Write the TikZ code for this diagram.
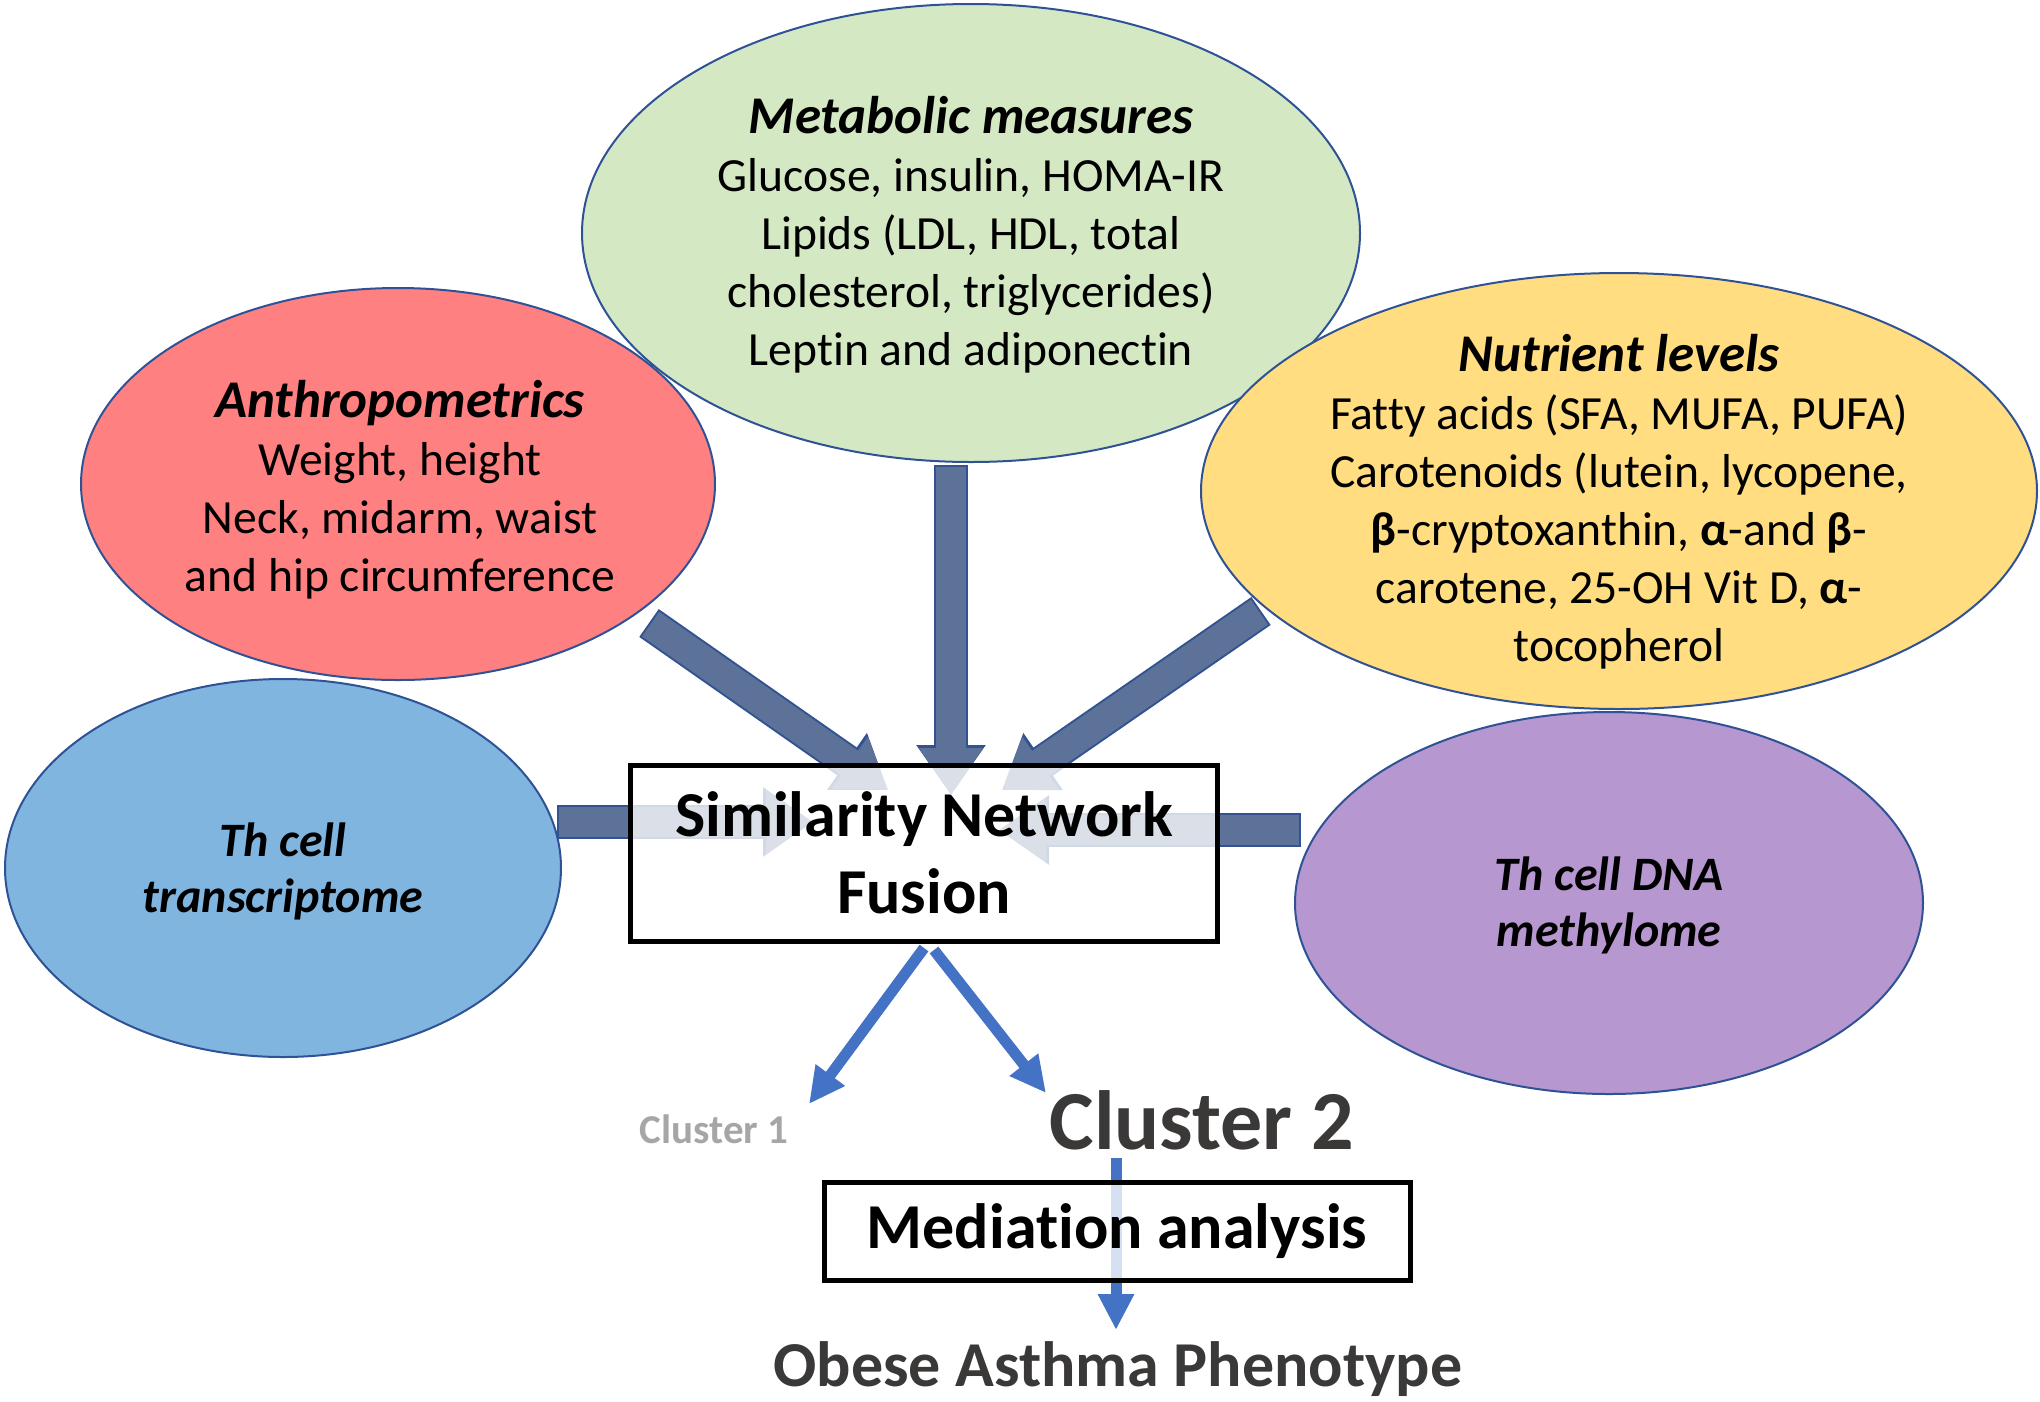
\documentclass[tikz,border=0pt]{standalone}
\usepackage{fontspec}
\setmainfont{Carlito}[Ligatures={NoCommon}]
\usetikzlibrary{arrows.meta,shapes.geometric}
\pgfdeclarelayer{bg}
\pgfsetlayers{bg,main}
\definecolor{ellborder}{RGB}{47,82,150}
\definecolor{cgreen}{RGB}{213,232,196}
\definecolor{cred}{RGB}{255,128,128}
\definecolor{cyellow}{RGB}{255,221,128}
\definecolor{cblue}{RGB}{128,181,223}
\definecolor{cpurple}{RGB}{182,151,207}
\definecolor{shaft}{RGB}{92,114,152}
\definecolor{shaftborder}{RGB}{50,82,145}
\definecolor{flow}{RGB}{68,114,196}
\definecolor{darktext}{RGB}{59,56,56}
\definecolor{lighttext}{RGB}{166,166,166}
\newcommand\myhead[1]{{\fontsize{53}{58}\selectfont\bfseries\itshape #1}}
\begin{document}
\begin{tikzpicture}[x=1pt,y=-1pt,
  ell/.style={ellipse, draw=ellborder, line width=2pt, inner sep=0pt},
  etext/.style={align=center, inner sep=0pt, font=\fontsize{47.6}{58}\selectfont},
  boxnode/.style={draw=black, line width=5pt, fill=white, fill opacity=0.78, text opacity=1, inner sep=0pt, align=center},
  fatback/.style={draw=shaftborder, line width=34pt, -{Triangle[width=66pt,length=50pt]}},
  fatfront/.style={draw=shaft, line width=30pt, shorten <=2pt, -{Triangle[width=61pt,length=47pt]}},
  flowarrow/.style={draw=flow, line width=11pt, -{Triangle[width=34pt,length=36pt]}}
]
\useasboundingbox (0,0) rectangle (2040,1401);

% ellipses
\node[ell, fill=cgreen, minimum width=778pt, minimum height=458pt] (met) at (971,233) {};
\node[ell, fill=cred, minimum width=634pt, minimum height=392pt] (anth) at (398,484) {};
\node[ell, fill=cyellow, minimum width=836pt, minimum height=436pt] (nutr) at (1619,491) {};
\node[ell, fill=cblue, minimum width=556pt, minimum height=378pt] (trans) at (283,868) {};
\node[ell, fill=cpurple, minimum width=628pt, minimum height=382pt] (meth) at (1609,903) {};

% ellipse texts
\node[etext] (metT) at (971,235) {\myhead{Metabolic measures}\\Glucose, insulin, HOMA-IR\\Lipids (LDL, HDL, total\\cholesterol, triglycerides)\\Leptin and adiponectin};
\node[etext] (anthT) at (400,490) {\myhead{Anthropometrics}\\Weight, height\\Neck, midarm, waist\\and hip circumference};
\node[etext] (nutrT) at (1619,502) {\myhead{Nutrient levels}\\Fatty acids (SFA, MUFA, PUFA)\\Carotenoids (lutein, lycopene,\\\textbf{β}-cryptoxanthin, \textbf{α}-and \textbf{β}-\\carotene, 25-OH Vit D, \textbf{α}-\\tocopherol};
\node[etext, font=\fontsize{48}{56}\selectfont\bfseries\itshape] (transT) at (283,871) {Th cell\\transcriptome};
\node[etext, font=\fontsize{48}{56}\selectfont\bfseries\itshape] (methT) at (1609,905) {Th cell DNA\\methylome};

% boxes
\node[boxnode, minimum width=587pt, minimum height=176pt, font=\fontsize{64}{77}\selectfont\bfseries] (snf) at (924,853) {Similarity Network\\Fusion};
\node[boxnode, minimum width=586pt, minimum height=98pt, font=\fontsize{64}{72}\selectfont\bfseries] (med) at (1117,1231) {Mediation analysis};

% cluster / outcome texts
\node[font=\fontsize{41}{50}\selectfont\bfseries, text=lighttext, inner sep=0pt] (c1) at (714,1129) {Cluster 1};
\node[font=\fontsize{84}{98}\selectfont\bfseries, text=darktext, inner sep=0pt] (c2) at (1202,1120) {Cluster 2};
\node[font=\fontsize{64}{77}\selectfont\bfseries, text=darktext, inner sep=0pt] (ob) at (1118,1369) {Obese Asthma Phenotype};

% arrow coordinates
\coordinate (a1s) at (649,623);  \coordinate (a1e) at (888,790);
\coordinate (a2s) at (951,465);  \coordinate (a2e) at (951,795);
\coordinate (a3s) at (1261,611); \coordinate (a3e) at (1002,790);
\coordinate (a4s) at (557,822);  \coordinate (a4e) at (813,822);
\coordinate (a5s) at (1301,830); \coordinate (a5e) at (999,830);
\coordinate (c1s) at (924,948);  \coordinate (c1e) at (809,1104);
\coordinate (c2s) at (934,950);  \coordinate (c2e) at (1046,1093);
\coordinate (ms) at (1116,1158); \coordinate (me) at (1116,1330);

\begin{pgfonlayer}{bg}
  \foreach \s/\e in {a1s/a1e,a2s/a2e,a3s/a3e,a4s/a4e,a5s/a5e}{
    \draw[fatback] (\s) -- (\e);
    \draw[fatfront] (\s) -- (\e);
  }
  \draw[flowarrow] (c1s) -- (c1e);
  \draw[flowarrow] (c2s) -- (c2e);
  \draw[flowarrow] (ms) -- (me);
\end{pgfonlayer}
\end{tikzpicture}
\end{document}
